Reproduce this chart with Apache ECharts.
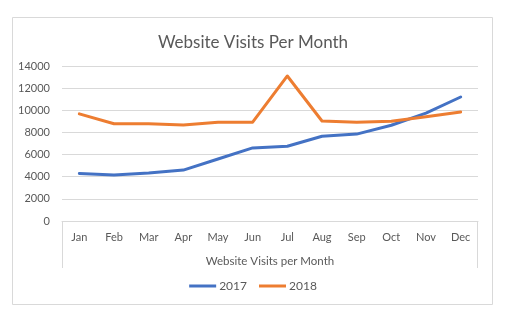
<!DOCTYPE html>
<html>
<head>
<meta charset="utf-8">
<script src="https://cdn.jsdelivr.net/npm/echarts@6/dist/echarts.min.js"></script>
<style>html,body{margin:0;padding:0;background:#fff;}#c{width:506px;height:322px;}</style>
</head>
<body>
<div id="c"></div>
<script>
const months = ['Jan','Feb','Mar','Apr','May','Jun','Jul','Aug','Sep','Oct','Nov','Dec'];
const visits2017 = [4300, 4150, 4330, 4600, 5600, 6600, 6750, 7650, 7850, 8650, 9750, 11200];
const visits2018 = [9680, 8780, 8780, 8680, 8930, 8930, 13100, 9030, 8930, 9000, 9420, 9840];
const yTicks = { min: 0, max: 14000, interval: 2000 };

const chart = echarts.init(document.getElementById('c'), null, { renderer: 'canvas' });
const font = 'Lato, "Open Sans", sans-serif';
const grey = '#595959';
chart.setOption({
  animation: false,
  backgroundColor: '#fff',
  title: {
    text: 'Website Visits Per Month',
    left: 'center',
    top: 29,
    textStyle: { fontFamily: font, fontSize: 17, fontWeight: 'normal', color: grey }
  },
  legend: {
    bottom: 25,
    left: 'center',
    icon: 'rect',
    itemWidth: 27,
    itemHeight: 3,
    itemGap: 12,
    textStyle: { fontFamily: font, fontSize: 12, color: grey, padding: [0, 0, 0, -2] },
    data: ['2017', '2018']
  },
  grid: { left: 62, right: 28, top: 66, bottom: 101 },
  xAxis: {
    type: 'category',
    data: months,
    boundaryGap: true,
    name: 'Website Visits per Month',
    nameLocation: 'middle',
    nameGap: 34,
    nameTextStyle: { fontFamily: font, fontSize: 11.5, color: grey },
    axisLine: { show: true, lineStyle: { color: '#d9d9d9', width: 1 } },
    axisTick: { show: false },
    axisLabel: { fontFamily: font, fontSize: 11, color: grey, margin: 11 }
  },
  yAxis: {
    type: 'value',
    min: yTicks.min,
    max: yTicks.max,
    interval: yTicks.interval,
    axisLine: { show: false },
    axisTick: { show: false },
    splitLine: { lineStyle: { color: '#d9d9d9', width: 1 } },
    axisLabel: { fontFamily: font, fontSize: 11, color: grey, margin: 12, formatter: v => String(v) }
  },
  series: [
    { name: '2017', type: 'line', data: visits2017, showSymbol: false, symbol: 'none',
      lineStyle: { color: '#4472C4', width: 3, join: 'round', cap: 'round' }, itemStyle: { color: '#4472C4' } },
    { name: '2018', type: 'line', data: visits2018, showSymbol: false, symbol: 'none',
      lineStyle: { color: '#ED7D31', width: 3, join: 'round', cap: 'round' }, itemStyle: { color: '#ED7D31' } }
  ],
  graphic: [
    { type: 'rect', shape: { x: 12.5, y: 17.5, width: 480, height: 287 }, style: { fill: 'none', stroke: '#d9d9d9', lineWidth: 1 }, silent: true, z: -1 },
    { type: 'line', shape: { x1: 62.5, y1: 221, x2: 62.5, y2: 268 }, style: { stroke: '#d9d9d9', lineWidth: 1 }, silent: true },
    { type: 'line', shape: { x1: 477.5, y1: 221, x2: 477.5, y2: 268 }, style: { stroke: '#d9d9d9', lineWidth: 1 }, silent: true }
  ]
});
</script>
</body>
</html>
